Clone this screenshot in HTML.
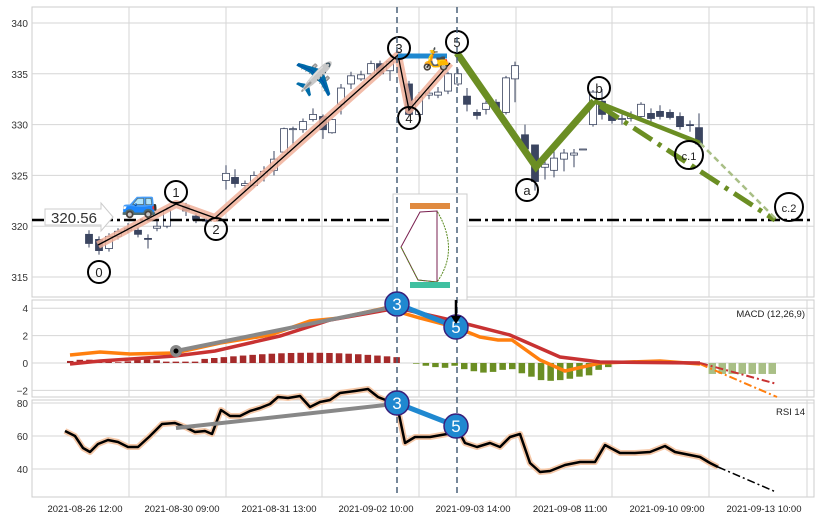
<!DOCTYPE html>
<html><head><meta charset="utf-8"><style>
body{margin:0;background:#fff;width:819px;height:520px;overflow:hidden;font-family:"Liberation Sans",sans-serif}
</style></head><body>
<svg id="s" width="819" height="520" xmlns="http://www.w3.org/2000/svg" font-family="Liberation Sans, sans-serif"></svg>
<script>
const s=document.getElementById('s');let h='';
const Y=v=>23+(340-v)*10.16, M=v=>363-v*13.7, R=v=>469-(v-40)*1.65;
h+='<rect width="819" height="520" fill="#fff"/>';
const panels=[[7,297],[300,397],[400,497]];
const gx=[129,226,322,419,516,612,709,807];
panels.forEach(p=>{h+=`<rect x="32" y="${p[0]}" width="782" height="${p[1]-p[0]}" fill="#fff" stroke="#ccc"/>`;gx.forEach(x=>h+=`<line x1="${x}" x2="${x}" y1="${p[0]}" y2="${p[1]}" stroke="#d6d6d6"/>`)});
[340,335,330,325,320,315].forEach(v=>{h+=`<line x1="32" x2="814" y1="${Y(v)}" y2="${Y(v)}" stroke="#d6d6d6"/><text x="28" y="${Y(v)+4}" font-size="10" text-anchor="end" fill="#333">${v}</text>`});
[4,2,0,-2].forEach(v=>{h+=`<line x1="32" x2="814" y1="${M(v)}" y2="${M(v)}" stroke="#d6d6d6"/><text x="28" y="${M(v)+4}" font-size="10" text-anchor="end" fill="#333">${v==-2?'−2':v}</text>`});
[80,60,40].forEach(v=>{h+=`<line x1="32" x2="814" y1="${R(v)}" y2="${R(v)}" stroke="#d6d6d6"/><text x="28" y="${R(v)+4}" font-size="10" text-anchor="end" fill="#333">${v}</text>`});
['2021-08-26 12:00','2021-08-30 09:00','2021-08-31 13:00','2021-09-02 10:00','2021-09-03 14:00','2021-09-08 11:00','2021-09-10 09:00','2021-09-13 10:00'].forEach((t,i)=>h+=`<text x="${85+97*i}" y="512" font-size="9.5" text-anchor="middle" fill="#222">${t}</text>`);
// candles [x,o,c,hi,lo]
const C=[[89,319.2,318.3,319.6,317.9],[99,318.7,317.6,319,317.2],[109,317.8,319,319.3,317.5],[118,319,319.5,319.8,318.7],[128,319.6,319.8,320.3,319.3],[138,319.6,319.2,319.9,318.9],[148,318.8,318.7,319.2,317.8],[157,319.8,320,320.6,319.5],[167,320,321.6,321.9,319.8],[186,322,321.5,322.3,321],[196,321,320.6,321.3,320.3],[206,320.6,320.5,320.8,320.2],[226,324.5,325.2,326,323.6],[235,324.8,324.2,325.6,323.8],[245,324,324.2,324.5,323.5],[254,324,325,325.4,323.8],[264,325,325.4,325.9,324.4],[274,325.5,326.6,327.4,325],[284,327.3,329.6,329.7,327.2],[293,329.5,329.6,329.8,328],[303,329.5,330.3,330.6,329.2],[313,330.5,331,331.6,330.3],[323,330.8,329.5,331,328.6],[332,329.2,330.5,330.6,329.1],[341,332,333.6,334,331],[351,334,334.8,335.2,333.5],[361,334.5,334.9,335.3,334.3],[371,335,336,336.3,334.8],[380,336,335,336.3,334.8],[390,335.3,336.2,336.3,334.3],[409,334,331,334.3,330.8],[419,331,332.7,333.2,330.8],[429,332.9,333.1,333.6,332.5],[438,332.9,333.2,333.7,332.6],[448,333.3,335,335.2,333],[458,334,335,335.5,333.8],[467,332.8,332,333.6,331.3],[477,331.2,330.9,331.5,330.5],[486,331.5,332.1,332.4,331],[496,332.2,331.5,332.5,331.3],[506,331.2,334.6,334.8,331],[515,334.5,335.8,336.2,332.2],[525,329,327.6,330,327.3],[535,328,324.4,328,323.5],[545,325.8,326.1,326.8,324.6],[554,325.5,326.7,327.5,324.8],[564,326.6,327.2,327.6,325.4],[574,327,327.2,327.6,325.8],[583,327.6,327.6,327.6,327.6],[593,330,333.2,333.4,329.8],[602,332.3,331,333.5,330.5],[612,331,330.4,331.5,330.1],[622,330.5,330.6,331,330],[631,330.6,330.9,331.3,330.3],[641,330.8,332,332.2,330.5],[651,331.1,330.6,331.6,330.3],[660,331.3,330.8,331.9,330.5],[670,331.2,330.7,331.5,330.5],[680,330.8,329.8,331.2,329.5],[690,330,329.9,330.4,329.3],[699,329.7,328.1,331.1,327.8]];
C.forEach(c=>{const[x,o,cl,hi,lo]=c;const up=cl>=o;h+=`<line x1="${x}" x2="${x}" y1="${Y(hi)}" y2="${Y(lo)}" stroke="#3b4560" stroke-width="1"/>`;const t=Y(Math.max(o,cl)),b=Y(Math.min(o,cl));h+=`<rect x="${x-3.5}" y="${t}" width="7" height="${Math.max(b-t,1)}" fill="${up?'#fff':'#3b4560'}" stroke="#3b4560" stroke-width="0.8"/>`});
// horizontal line
h+='<line x1="32" x2="814" y1="220" y2="220" stroke="#000" stroke-width="2.5" stroke-dasharray="12,4,3,4"/>';
h+='<path d="M45,209 H101 V203 L113,217 L101,231 V225 H45 Z" fill="#fff" stroke="#ccc"/><text x="74" y="223" font-size="15" text-anchor="middle" fill="#333">320.56</text>';
// waves
const W='98,245 176,204 215,218 398,55 409,110 450,63';
h+=`<polyline points="${W}" fill="none" stroke="#f0b09a" stroke-width="8" stroke-linejoin="round" opacity="0.85"/><polyline points="${W}" fill="none" stroke="#000" stroke-width="1.3"/>`;
h+='<line x1="398" y1="56" x2="447" y2="56" stroke="#1f88d0" stroke-width="5"/>';
h+='<polyline points="457,53 536,167 594,101" fill="none" stroke="#6b8e23" stroke-width="7"/><polyline points="594,101 700,143" fill="none" stroke="#6b8e23" stroke-width="4.5"/>';
h+='<line x1="600" y1="106" x2="775" y2="220" stroke="#6b8e23" stroke-width="5" stroke-dasharray="22,7,4,7"/><line x1="700" y1="143" x2="777" y2="220" stroke="#a9bf86" stroke-width="2.5" stroke-dasharray="6,4"/>';
[['0',99,272],['1',176,192],['2',216,229],['3',399,48],['4',409,118],['5',457,42],['a',527,190],['b',599,88],['c.1',689,155],['c.2',789,207]].forEach(l=>{const r=l[0].length>1?14:11;h+=`<circle cx="${l[1]}" cy="${l[2]}" r="${r}" fill="none" stroke="#000" stroke-width="2"/><text x="${l[1]}" y="${l[2]+5}" font-size="${l[0].length>1?11:13}" text-anchor="middle" fill="#222">${l[0]}</text>`});
h+='<text x="121" y="212" font-size="30">🚙</text><text x="294" y="90" font-size="32">✈️</text><text x="422" y="66" font-size="22">🛵</text>';
// inset
h+='<rect x="393" y="194" width="74" height="106" fill="#fff" stroke="#ccc"/><path d="M401,247 L420,212 L437,211 L437,282 L418,280 Z" fill="none" stroke="#7a2050" stroke-width="1"/><path d="M401,247 L418,280 L437,282 Q460,250 437,211" fill="none" stroke="#5a8a20" stroke-width="1" stroke-dasharray="2,1"/><rect x="410" y="203" width="40" height="6" fill="#e08a40"/><rect x="410" y="282" width="40" height="6" fill="#40c0a0"/>';
// MACD histogram
for(let i=0;i<35;i++){const x=70+i*9.6;const v=i<10?0.15+0.1*Math.sin(i):i<14?0.1:0.3+0.45*Math.sin((i-14)/22*Math.PI);h+=`<rect x="${x-3}" y="${M(v)}" width="6.5" height="${M(0)-M(v)}" fill="#a52a2a"/>`}
const gv=[-0.05,-0.2,-0.3,-0.35,-0.2,-0.45,-0.6,-0.7,-0.65,-0.5,-0.45,-0.75,-1.0,-1.25,-1.3,-1.25,-1.15,-1.0,-0.9,-0.5,-0.3];
gv.forEach((v,i)=>{const x=416+i*9.6;h+=`<rect x="${x-3}" y="${M(0)}" width="6.5" height="${M(v)-M(0)}" fill="#6b8e23"/>`});
for(let i=0;i<7;i++){const x=712+i*10;const v=-0.8;h+=`<rect x="${x-3.5}" y="${M(0)}" width="7.5" height="${M(v)-M(0)}" fill="#a9bf86"/>`}
h+='<polyline points="70,355 100,352 130,354 175,353 220,343 270,335 310,321 340,318 385,308 420,318 455,327 480,337 498,340 512,340 540,360 565,371 600,363 660,361 700,364" fill="none" stroke="#ff7f0e" stroke-width="3.5"/><line x1="700" y1="364" x2="777" y2="397" stroke="#ff7f0e" stroke-width="2" stroke-dasharray="8,3,2,3"/>';
h+='<polyline points="70,364 100,361 175,356 215,351 280,336 330,320 398,308 455,321 510,335 560,357 600,362 700,363" fill="none" stroke="#c83232" stroke-width="3.5"/><line x1="700" y1="363" x2="777" y2="384" stroke="#c83232" stroke-width="2" stroke-dasharray="8,3,2,3"/>';
h+='<line x1="176" y1="351" x2="398" y2="306" stroke="#888" stroke-width="4"/><circle cx="176" cy="351" r="6" fill="#888"/><circle cx="176" cy="351" r="2.5" fill="#000"/>';
// RSI
const RP='65,431 75,436 83,448 90,452 98,444 108,440 118,442 128,447 138,447 150,436 162,424 175,423 185,427 195,432 205,431 212,434 221,410 230,416 240,416 250,411 260,408 270,404 278,397 288,398 300,396 310,407 320,402 330,400 340,393 355,391 368,389 378,397 388,401 397,405 405,443 415,437 430,437 447,434 457,428 465,443 477,447 490,443 500,447 510,437 520,434 530,463 540,472 550,471 565,465 580,462 595,462 605,445 620,453 635,453 650,452 665,446 675,452 690,455 700,457 710,463 718,467';
h+=`<polyline points="${RP}" fill="none" stroke="#f5c8a8" stroke-width="6" stroke-linejoin="round"/><polyline points="${RP}" fill="none" stroke="#000" stroke-width="2.5" stroke-linejoin="round"/><line x1="718" y1="467" x2="776" y2="492" stroke="#000" stroke-width="1.5" stroke-dasharray="8,3,2,3"/>`;
h+='<line x1="176" y1="428" x2="395" y2="404" stroke="#888" stroke-width="4"/>';
// vertical dashed
[397,457].forEach(x=>h+=`<line x1="${x}" x2="${x}" y1="7" y2="497" stroke="#4a6178" stroke-width="1.5" stroke-dasharray="6,4"/>`);
h+='<line x1="397" y1="304" x2="456" y2="327" stroke="#1f88d0" stroke-width="5"/><line x1="397" y1="403" x2="456" y2="426" stroke="#1f88d0" stroke-width="5"/>';
[[397,304],[456,327],[397,403],[456,426]].forEach((p,i)=>h+=`<circle cx="${p[0]}" cy="${p[1]}" r="12" fill="#1f88d0" stroke="#3a1f7a" stroke-width="1.5"/><text x="${p[0]}" y="${p[1]+6}" font-size="17" text-anchor="middle" fill="#fff">${i%2?5:3}</text>`);
h+='<line x1="456" y1="300" x2="456" y2="318" stroke="#000" stroke-width="2.5"/><path d="M451,316 L456,324 L461,316Z" fill="#000"/>';
h+='<text x="805" y="317" font-size="9.5" text-anchor="end" fill="#222">MACD (12,26,9)</text><text x="805" y="415" font-size="9.5" text-anchor="end" fill="#222">RSI 14</text>';
s.innerHTML=h;
</script>
</body></html>
